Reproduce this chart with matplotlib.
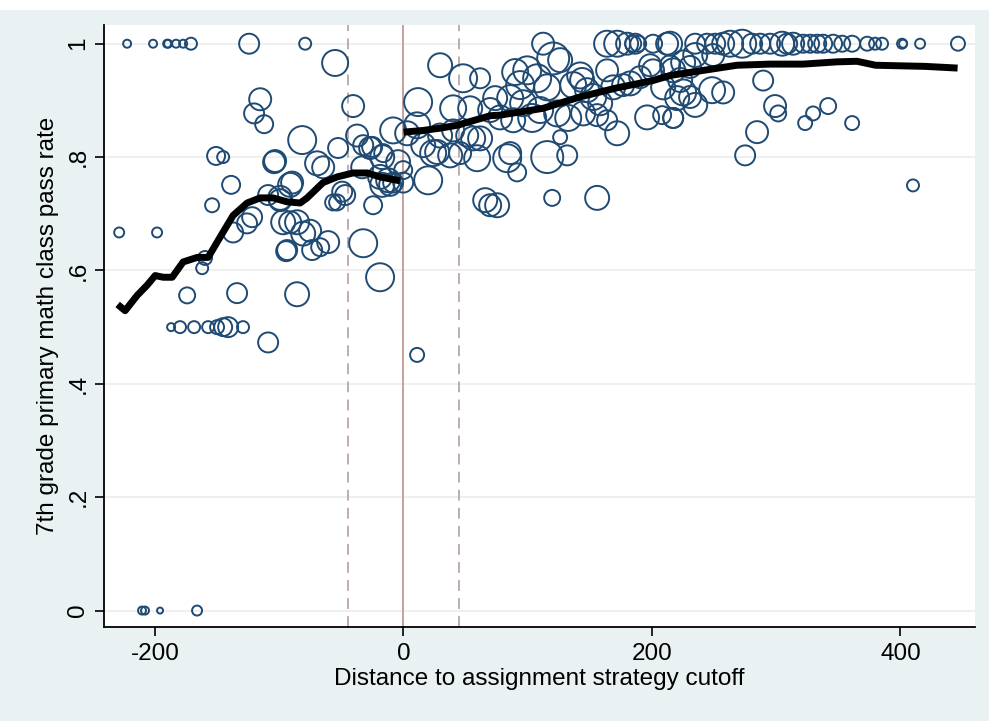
import matplotlib.pyplot as plt
from matplotlib.patches import Rectangle
import numpy as np

# school-level points: distance to cutoff, pass rate, number of students
dist = [
    # pass rate = 1, left of cutoff
    -222.4, -201.5, -190.2, -189.4, -183, -177.3, -171, -124.2, -79.1,
    # left side
    -115.3, -120.2, -112.1, -150.8, -145.1, -138.7, -154, -228.8, -198.3,
    -159.7, -162, -174.1, -133.9,
    -187, -179.8, -168.5, -157.2, -150, -145.1, -141.1, -129.1,
    -108.9, -137.1, -125.9, -121.8, -103.3, -81.5, -91.2, -108.9, -99.2,
    -96.8, -94.4, -85.6,
    -55, -40.5, -104.1, -69.5, -64.6, -52.6, -37.3, -32.4, -25.2, -16.3,
    -8.3, -49.3, -53.4, -24.4, -18.8, -12.3, -8.3, -32.4, -18.8,
    -93.6, -73.5, -67, -60.6, -80.7, -91.2, -99.2, -75.1, -89.6,
    -26.8, -17.1, -4.3, -17.1, -10.7, -33.2, -46.9, -56.6, -85.6,
    -210.4, -208, -195.9, -166.1,
    # right side near cutoff
    3.0, 11.8, 11, 29.5, 48, 61.7, 40, 53.7, 56.1, 37.6, 19.9, 27.1, 15.9,
    65.8, 69.8, 11, -0.2, -0.2, 23.9, 45.6, 29.5, 40, 51.3, 61.7,
    # right side, middle
    89.9, 93.9, 112.4, 120.5, 99.6, 107.6, 115.7, 96.3, 85.9, 73.8, 69.8,
    77.8, 88.3, 103.6, 110, 123.7, 136.6, 143.8, 147.8, 152.7, 132.6,
    144.6, 158.3, 168.8, 163.9, 172, 180, 186.5, 200.9, 212.2, 182.5,
    190.5, 200.9, 209, 222.7, 230.7, 196.1, 208.2, 217.1, 172, 155.9,
    126.1, 131.8, 115.7, 85.9, 83.5, 91.5, 75.4, 119.7, 155.9, 59.3,
    126.1, 163.9, 184.9, 188.9, 198.5, 214.6, 142.2, 176.8, 163.9,
    # right side, far
    214.6, 234.8, 244.4, 250.9, 257.3, 262.9, 272.6, 280.6, 287.1, 295.1,
    304.8, 308.8, 313.6, 321.7, 327.3, 333, 337.8, 345.8, 353.1, 361.1,
    373.2, 234.8, 225.1, 249.3, 217.1, 230.7, 225.1, 220.3, 234.8, 217.1,
    248.4, 257.3, 289.5, 299.1, 301.6, 284.6, 275, 323.3, 329.7, 341.8,
    361.1, 379.6, 385.2, 401.3, 402.1, 415.8, 446.3, 410.1,
]
pass_rate = [
    1, 1, 1, 1, 1, 1, 1, 1, 1,
    0.902, 0.877, 0.858, 0.802, 0.800, 0.751, 0.715, 0.667, 0.667,
    0.622, 0.604, 0.556, 0.560,
    0.5, 0.5, 0.5, 0.5, 0.5, 0.5, 0.5, 0.5,
    0.473, 0.667, 0.683, 0.694, 0.793, 0.830, 0.751, 0.733, 0.728,
    0.685, 0.634, 0.558,
    0.966, 0.890, 0.791, 0.789, 0.782, 0.816, 0.838, 0.821, 0.818, 0.807,
    0.847, 0.739, 0.720, 0.715, 0.765, 0.759, 0.755, 0.648, 0.588,
    0.636, 0.636, 0.641, 0.650, 0.665, 0.685, 0.724, 0.670, 0.755,
    0.816, 0.800, 0.791, 0.751, 0.751, 0.782, 0.733, 0.720, 0.685,
    0, 0, 0, 0,
    0.842, 0.897, 0.856, 0.962, 0.939, 0.939, 0.886, 0.886, 0.833, 0.803,
    0.759, 0.809, 0.821, 0.724, 0.715, 0.451, 0.777, 0.755, 0.807, 0.807,
    0.838, 0.847, 0.838, 0.833,
    0.950, 0.927, 1.0, 0.974, 0.953, 0.939, 0.923, 0.895, 0.904, 0.904,
    0.883, 0.870, 0.865, 0.869, 0.883, 0.877, 0.927, 0.936, 0.918, 0.906,
    0.869, 0.877, 0.895, 0.923, 0.953, 1.0, 1.0, 1.0, 1.0, 1.0, 0.930,
    0.941, 0.953, 0.923, 0.936, 0.906, 0.870, 0.874, 0.869, 0.842, 0.874,
    0.835, 0.803, 0.800, 0.807, 0.798, 0.773, 0.715, 0.728, 0.728, 0.798,
    0.971, 1.0, 1.0, 1.0, 0.962, 0.962, 0.944, 0.927, 0.865,
    1.0, 1.0, 1.0, 1.0, 1.0, 1.0, 1.0, 1.0, 1.0, 1.0,
    1.0, 1.0, 1.0, 1.0, 1.0, 1.0, 1.0, 1.0, 1.0, 1.0,
    1.0, 0.980, 0.967, 0.980, 0.953, 0.959, 0.914, 0.904, 0.892, 0.869,
    0.918, 0.914, 0.935, 0.890, 0.877, 0.844, 0.803, 0.860, 0.877, 0.890,
    0.860, 1.0, 1.0, 1.0, 1.0, 1.0, 1.0, 0.750,
]
n_students = [
    16, 16, 16, 16, 16, 16, 36, 100, 36,
    121, 100, 81, 81, 36, 81, 49, 25, 25,
    49, 36, 64, 100,
    16, 36, 36, 36, 49, 81, 100, 36,
    100, 100, 100, 100, 121, 196, 144, 100, 144,
    144, 100, 144,
    169, 121, 121, 144, 121, 100, 121, 100, 100, 81,
    169, 100, 64, 81, 144, 144, 100, 196, 196,
    100, 100, 81, 121, 144, 121, 121, 121, 121,
    121, 144, 144, 144, 121, 121, 100, 64, 144,
    16, 16, 9, 25,
    144, 196, 169, 144, 196, 100, 169, 144, 144, 144,
    196, 144, 144, 144, 121, 49, 81, 100, 169, 121,
    144, 121, 121, 144,
    169, 196, 121, 256, 196, 196, 169, 169, 169, 144, 144,
    144, 144, 196, 169, 169, 169, 144, 144, 169, 169,
    144, 144, 144, 121, 169, 121, 100, 81, 121, 144,
    121, 121, 144, 144, 121, 144, 81, 100, 144, 121,
    49, 100, 256, 121, 196, 81, 144, 64, 144, 169,
    144, 169, 64, 64, 121, 100, 169, 121, 100,
    144, 100, 100, 100, 121, 169, 196, 100, 100, 100,
    144, 100, 121, 81, 81, 81, 81, 81, 64, 64,
    49, 144, 144, 121, 144, 121, 169, 144, 144, 100,
    169, 121, 100, 121, 64, 121, 100, 49, 49, 64,
    49, 36, 36, 25, 16, 25, 49, 36,
]

# smoothed pass rate on each side of the cutoff
left_x = [-230, -224, -214.3, -206.3, -199.8, -193.4, -186.1, -177.3, -166.0,
          -157.2, -147.5, -137.1, -125.8, -115.3, -104.9, -93.6, -83.1, -77.5,
          -64.7, -53.4, -40.5, -29.2, -18.8, -2.7]
left_y = [0.540, 0.529, 0.556, 0.574, 0.591, 0.588, 0.588, 0.615, 0.623,
          0.623, 0.659, 0.697, 0.719, 0.728, 0.728, 0.721, 0.719, 0.728,
          0.755, 0.765, 0.772, 0.772, 0.765, 0.758]
right_x = [0, 15.9, 29.5, 43, 70, 77.8, 112.4, 142, 171.6, 200.8, 214.7,
           241.5, 268.4, 295, 321.7, 349, 365, 380, 400, 420, 446]
right_y = [0.844, 0.847, 0.851, 0.856, 0.873, 0.874, 0.886, 0.906, 0.922,
           0.935, 0.944, 0.953, 0.962, 0.964, 0.964, 0.968, 0.969, 0.962,
           0.961, 0.960, 0.957]

bandwidth = 45
xticks = [-200, 0, 200, 400]
yticks = [0, 0.2, 0.4, 0.6, 0.8, 1.0]
ylabels = ['0', '.2', '.4', '.6', '.8', '1']

plt.rcParams['font.family'] = ['Liberation Sans', 'DejaVu Sans']
plt.rcParams['axes.unicode_minus'] = False

bg = '#e9f1f3'
fig = plt.figure(figsize=(9.89, 7.21), dpi=100, facecolor=bg)
ax = fig.add_axes([104/989, 1 - 627/721, (975 - 104)/989, (627 - 25)/721])
ax.set_facecolor('white')

# strip of page above the chart
fig.patches.append(Rectangle((0, 1 - 10/721), 1, 10/721, transform=fig.transFigure,
                             facecolor='white', edgecolor='none', zorder=-1))

for yv in yticks:
    ax.axhline(yv, color='#ececec', lw=1.2, zorder=0)

ax.axvline(0, color='#c39a94', lw=1.3, zorder=1)
ax.axvline(-bandwidth, color='#b9a7aa', lw=1.3, ls=(0, (6, 4)), zorder=1)
ax.axvline(bandwidth, color='#b9a7aa', lw=1.3, ls=(0, (6, 4)), zorder=1)

sizes = np.array(n_students) * 2.07
ax.scatter(dist, pass_rate, s=sizes, facecolors='none', edgecolors='#1f4a73',
           linewidths=1.4, zorder=2)

ax.plot(left_x, left_y, color='black', lw=5, solid_capstyle='butt', zorder=3)
ax.plot(right_x, right_y, color='black', lw=5, solid_capstyle='butt', zorder=3)

ax.set_xlim(-241, 460)
ax.set_ylim(-0.029, 1.033)
ax.set_xticks(xticks)
ax.set_yticks(yticks)
ax.set_yticklabels(ylabels)
ax.tick_params(axis='both', direction='out', length=6.5, width=1.2, labelsize=17.5,
               colors='black', pad=5)
ax.tick_params(axis='y', labelrotation=90, pad=4)
for lab in ax.get_yticklabels():
    lab.set_va('center')

for side in ['top', 'right']:
    ax.spines[side].set_visible(False)
for side in ['left', 'bottom']:
    ax.spines[side].set_linewidth(1.3)

ax.set_xlabel('Distance to assignment strategy cutoff', fontsize=17.5, labelpad=2)
ax.set_ylabel('7th grade primary math class pass rate', fontsize=17.5, labelpad=6)

fig.savefig('out.png', dpi=100, facecolor=bg)
